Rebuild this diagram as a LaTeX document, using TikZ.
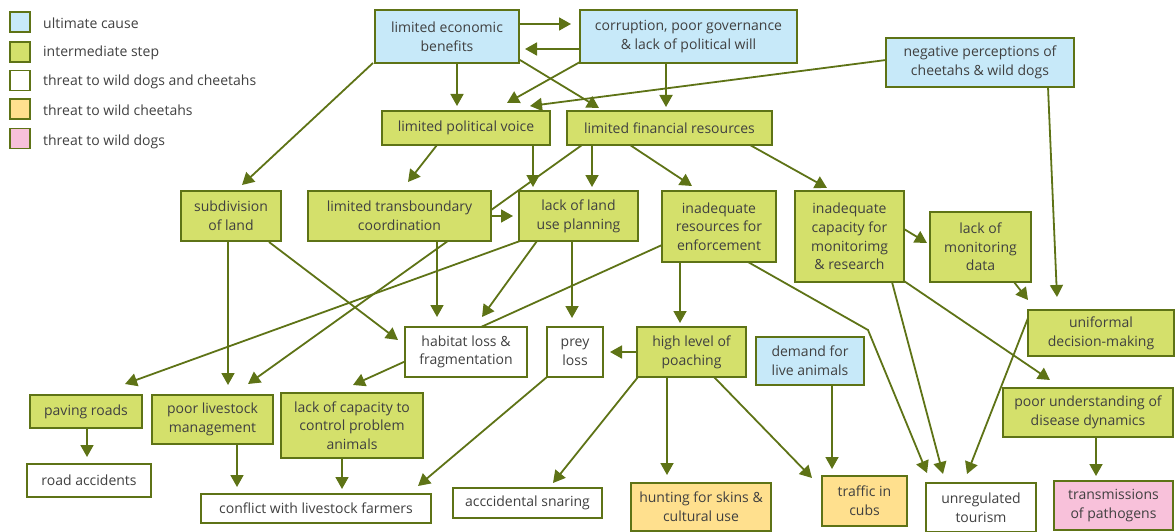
\documentclass[tikz,border=0pt]{standalone}
\usepackage{fontspec}
\setmainfont{Open Sans}
\usetikzlibrary{arrows.meta,calc,backgrounds}
\definecolor{ln}{RGB}{94,115,22}
\definecolor{cblue}{RGB}{199,233,249}
\definecolor{cgreen}{RGB}{212,224,107}
\definecolor{cyel}{RGB}{255,224,142}
\definecolor{cpink}{RGB}{248,193,218}
\definecolor{txt}{RGB}{64,64,64}
\newcommand\mkbox[7]{%
  \pgfmathsetmacro\mbcx{(#3+#5)/2}\pgfmathsetmacro\mbcy{(#4+#6)/2}%
  \pgfmathsetmacro\mbw{#5-#3}\pgfmathsetmacro\mbh{#6-#4}%
  \node[box,fill=#2,minimum width=\mbw pt,minimum height=\mbh pt] (#1) at (\mbcx,\mbcy) {#7};}
\begin{document}
\begin{tikzpicture}[x=1pt,y=-1pt,
  box/.style={draw=ln, line width=1.7pt, inner sep=0pt, outer sep=0pt, align=center, text=txt,
    font=\fontsize{14}{18.7}\selectfont},
  legtext/.style={anchor=west, inner sep=0pt, text=txt, font=\fontsize{14}{18.7}\selectfont},
  arr/.style={draw=ln, line width=1.8pt, -{Triangle[length=12pt,width=13pt]}}]
\useasboundingbox (0,0) rectangle (1175,532);
% legend
\node[box,fill=cblue,minimum width=20pt,minimum height=20pt] (L1) at (20,22) {};
\node[box,fill=cgreen,minimum width=20pt,minimum height=20pt] (L2) at (20,52) {};
\node[box,fill=white,minimum width=20pt,minimum height=20pt] (L3) at (20,80.5) {};
\node[box,fill=cyel,minimum width=20pt,minimum height=20pt] (L4) at (20,109) {};
\node[box,fill=cpink,minimum width=20pt,minimum height=20pt] (L5) at (20,138.5) {};
\node[legtext] (T1) at (43,23) {ultimate cause};
\node[legtext] (T2) at (43,53) {intermediate step};
\node[legtext] (T3) at (43,81.5) {threat to wild dogs and cheetahs};
\node[legtext] (T4) at (43,110) {threat to wild cheetahs};
\node[legtext] (T5) at (43,142) {threat to wild dogs};
% nodes
\mkbox{LEB}{cblue}{375}{10}{519}{63}{limited economic\\benefits}
\mkbox{COR}{cblue}{580}{10}{797}{63}{corruption, poor governance\\\& lack of political will}
\mkbox{NEG}{cblue}{886}{38}{1074}{87}{negative perceptions of\\cheetahs \& wild dogs}
\mkbox{LPV}{cgreen}{382}{111}{550}{145}{limited political voice}
\mkbox{LFR}{cgreen}{567}{111}{772}{145}{limited financial resources}
\mkbox{SUB}{cgreen}{181}{191}{281}{241}{subdivision\\of land}
\mkbox{LTC}{cgreen}{308}{191}{491}{241}{limited transboundary\\coordination}
\mkbox{LLU}{cgreen}{519}{191}{638}{241}{lack of land\\use planning}
\mkbox{IRE}{cgreen}{662}{191}{776}{262}{inadequate\\resources for\\enforcement}
\mkbox{ICM}{cgreen}{795}{191}{904}{282}{inadequate\\capacity for\\monitorimg\\\& research}
\mkbox{LMD}{cgreen}{930}{212}{1031}{282}{lack of\\monitoring\\data}
\mkbox{UDM}{cgreen}{1028}{310}{1174}{356}{uniformal\\decision-making}
\mkbox{HAB}{white}{405}{327}{527}{377}{habitat loss \&\\fragmentation}
\mkbox{PREY}{white}{547}{327}{603}{377}{prey\\loss}
\mkbox{HLP}{cgreen}{637}{327}{746}{377}{high level of\\poaching}
\mkbox{DEM}{cblue}{756}{337}{864}{385}{demand for\\live animals}
\mkbox{PDD}{cgreen}{1003}{388}{1173}{437}{poor understanding of\\disease dynamics}
\mkbox{PAV}{cgreen}{30}{395}{142}{428}{paving roads}
\mkbox{PLM}{cgreen}{152}{395}{273}{444}{poor livestock\\management}
\mkbox{LCC}{cgreen}{281}{393}{423}{458}{lack of capacity to\\control problem\\animals}
\mkbox{RA}{white}{27}{464}{151}{497}{road accidents}
\mkbox{CLF}{white}{201}{494}{431}{523}{conflict with livestock farmers}
\mkbox{ACC}{white}{453}{488}{602}{518}{acccidental snaring}
\mkbox{HUN}{cyel}{631}{483}{771}{531}{hunting for skins \&\\cultural use}
\mkbox{TRA}{cyel}{822}{476}{907}{526}{traffic in\\cubs}
\mkbox{UT}{white}{926}{483}{1036}{532}{unregulated\\tourism}
\mkbox{TP}{cpink}{1054}{481}{1173}{530}{transmissions\\of pathogens}
% connectors
\begin{scope}[on background layer]
\draw[arr] ($(LEB.north west)+(144,14)$) -- ($(COR.north west)+(-9,14)$);
\draw[arr] ($(COR.north west)+(0,39)$) -- ($(LEB.north west)+(150,39)$);
\draw[arr] ($(LEB.north west)+(82,53)$) -- ($(LPV.north west)+(75,-5)$);
\draw[arr] ($(LEB.north west)+(145,50)$) -- ($(LFR.north west)+(32,-3)$);
\draw[arr] ($(COR.north west)+(0,52)$) -- ($(LPV.north west)+(125,-8)$);
\draw[arr] ($(COR.north west)+(86,53)$) -- ($(LFR.north west)+(99,-4)$);
\draw[arr] ($(NEG.north west)+(0,22)$) -- ($(LPV.north west)+(148,-5)$);
\draw[arr] ($(NEG.north west)+(162,49)$) -- ($(UDM.north west)+(29,-13)$);
\draw[arr] ($(LEB.north west)+(-2,53)$) -- ($(SUB.north west)+(61,-6)$);
\draw[arr] ($(LPV.north west)+(55,34)$) -- ($(LTC.north west)+(100,-9)$);
\draw[arr] ($(LPV.north west)+(151,34)$) -- ($(LLU.north west)+(14,-4)$);
\draw[arr] ($(LFR.north west)+(15,34)$) -- ($(PLM.north west)+(96,-11)$);
\draw[arr] ($(LTC.north west)+(183,25)$) -- ($(LLU.north west)+(-6,25)$);
\draw[arr] ($(LFR.north west)+(25,34)$) -- ($(LLU.north west)+(73,-4)$);
\draw[arr] ($(LFR.north west)+(63,34)$) -- ($(IRE.north west)+(30,-5)$);
\draw[arr] ($(LFR.north west)+(183,34)$) -- ($(ICM.north west)+(32,-3)$);
\draw[arr] ($(SUB.north west)+(47,50)$) -- ($(PLM.north west)+(76,-10)$);
\draw[arr] ($(SUB.north west)+(88,51)$) -- ($(HAB.north west)+(-7,13)$);
\draw[arr] ($(LTC.north west)+(129,50)$) -- ($(HAB.north west)+(32,-10)$);
\draw[arr] ($(LLU.north west)+(1,50)$) -- ($(PAV.north west)+(95,-11)$);
\draw[arr] ($(LLU.north west)+(18,50)$) -- ($(HAB.north west)+(77,-10)$);
\draw[arr] ($(LLU.north west)+(53,50)$) -- ($(PREY.north west)+(25,-9)$);
\draw[arr] ($(IRE.north west)+(0,54)$) -- ($(LCC.north west)+(72,-8)$);
\draw[arr] ($(IRE.north west)+(18,71)$) -- ($(HLP.north west)+(43,-4)$);
\draw[arr] ($(IRE.north west)+(86,71)$) -- ($(UT.north west)+(-58,-153)$) -- ($(UT.north west)+(1,-10)$);
\draw[arr] ($(ICM.north west)+(97,91)$) -- ($(UT.north west)+(17,-9)$);
\draw[arr] ($(ICM.north west)+(109,90)$) -- ($(PDD.north west)+(47,-8)$);
\draw[arr] ($(ICM.north west)+(109,38)$) -- ($(LMD.north west)+(-3,31)$);
\draw[arr] ($(LMD.north west)+(84,70)$) -- ($(UDM.north west)+(0,-10)$);
\draw[arr] ($(UDM.north west)+(0,8)$) -- ($(UT.north west)+(41,-9)$);
\draw[arr] ($(PDD.north west)+(93,49)$) -- ($(TP.north west)+(42,-5)$);
\draw[arr] ($(HLP.north west)+(0,25)$) -- ($(PREY.north west)+(63,25)$);
\draw[arr] ($(HLP.north west)+(1,50)$) -- ($(ACC.north west)+(100,-5)$);
\draw[arr] ($(HLP.north west)+(30,50)$) -- ($(HUN.north west)+(36,-8)$);
\draw[arr] ($(HLP.north west)+(77,50)$) -- ($(TRA.north west)+(-10,2)$);
\draw[arr] ($(DEM.north west)+(76,48)$) -- ($(TRA.north west)+(10,-7)$);
\draw[arr] ($(PREY.north west)+(0,50)$) -- ($(CLF.north west)+(217,-8)$);
\draw[arr] ($(PAV.north west)+(57,33)$) -- ($(RA.north west)+(60,-7)$);
\draw[arr] ($(PLM.north west)+(85,49)$) -- ($(CLF.north west)+(36,-7)$);
\draw[arr] ($(LCC.north west)+(61,65)$) -- ($(CLF.north west)+(141,-5)$);
\end{scope}
\end{tikzpicture}
\end{document}
